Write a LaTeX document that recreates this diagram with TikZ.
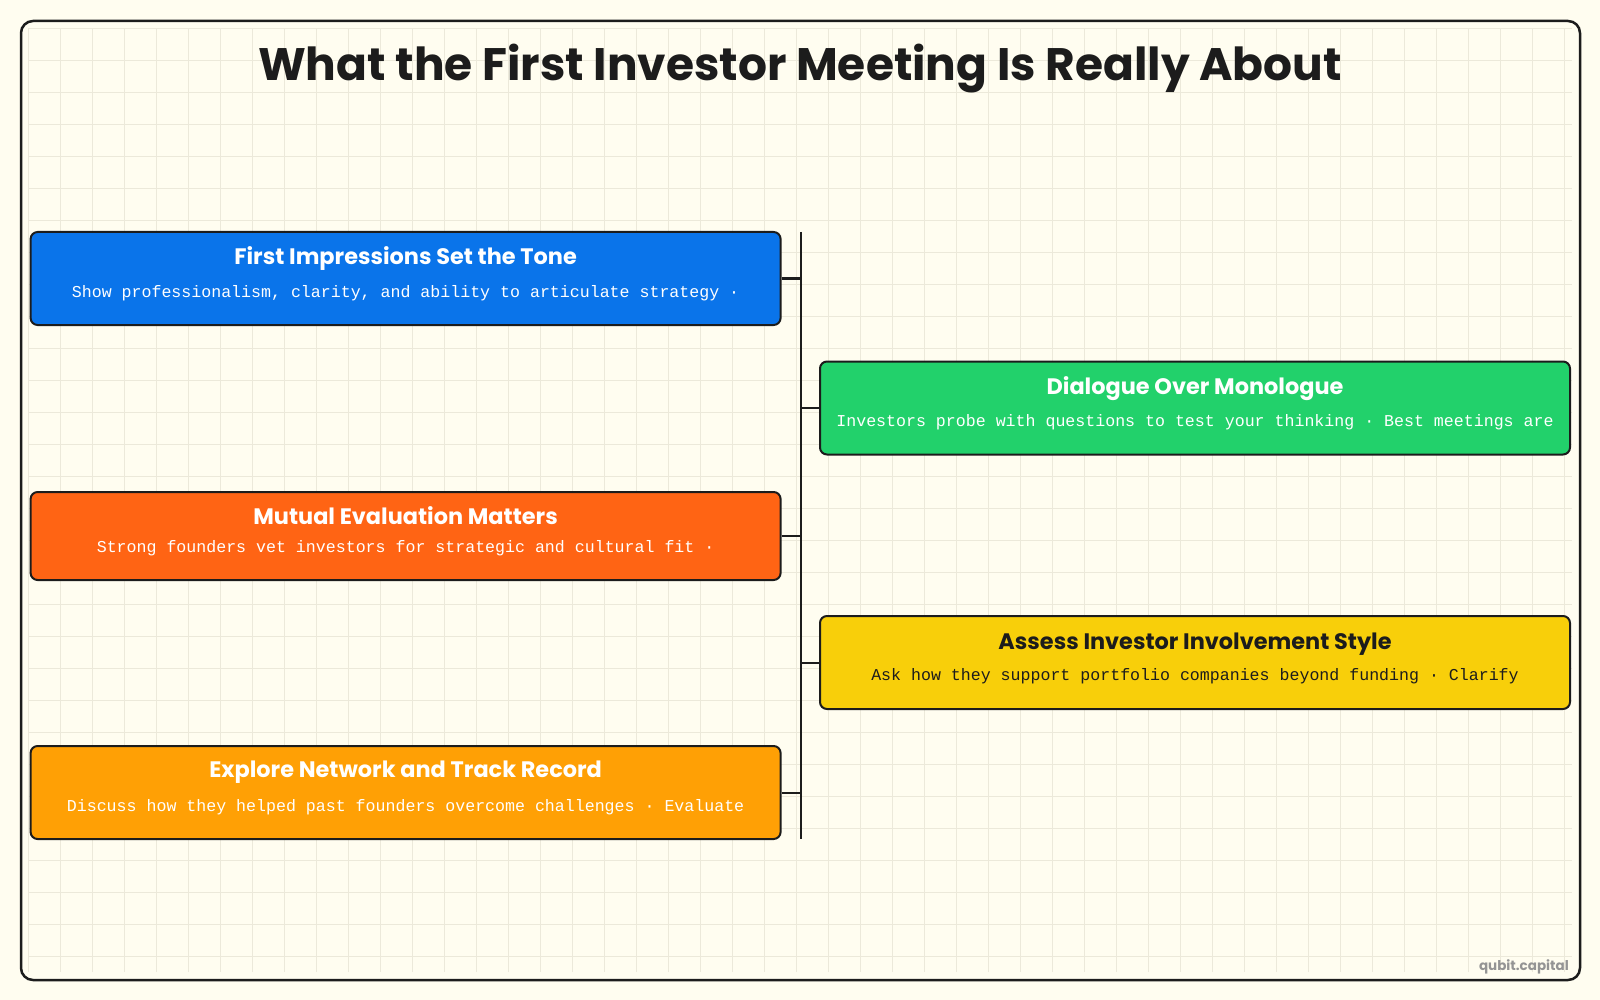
\documentclass[tikz,border=0pt]{standalone}
\usepackage{fontspec}
\setmainfont{Poppins}
\newfontfamily\codefont{Liberation Mono}
\definecolor{paper}{HTML}{FFFDF0}
\definecolor{gridc}{HTML}{ECE9DA}
\definecolor{ink}{HTML}{1C1C1C}
\definecolor{cblue}{HTML}{0A74EA}
\definecolor{cgreen}{HTML}{22D16B}
\definecolor{cred}{HTML}{FF6414}
\definecolor{cyellow}{HTML}{F8CF0A}
\definecolor{corange}{HTML}{FFA005}
\tikzset{
  card/.style={draw=ink, line width=2pt, rounded corners=7pt, minimum width=750pt, minimum height=93pt},
  head/.style={font=\bfseries\fontsize{22.4}{26}\selectfont, text=white},
  sub/.style={font=\codefont\fontsize{16.6}{20}\selectfont, text=white},
  spine/.style={draw=ink, line width=2pt}
}
\begin{document}
\begin{tikzpicture}[x=1pt,y=-1pt]
\useasboundingbox[fill=paper] (0,0) rectangle (1600,1000);
\begin{scope}[shift={(28,28)}]
  \draw[gridc, line width=0.7pt, step=32pt] (0,0) grid (1544,944);
\end{scope}
\draw[ink, line width=2.5pt, rounded corners=12pt] (21,21) rectangle (1580,980);

\node[font=\bfseries\fontsize{45.5}{52}\selectfont, text=ink] (title) at (800,69) {What the First Investor Meeting Is Really About};

\node[card, fill=cblue] (b1) at (405.6,278.5) {};
\node[head] (h1) at (405.6,259) {First Impressions Set the Tone};
\node[sub] (s1) at (405.6,293) {Show professionalism, clarity, and ability to articulate strategy ·};

\node[card, fill=cgreen] (b2) at (1195,408) {};
\node[head] (h2) at (1195,389) {Dialogue Over Monologue};
\node[sub] (s2) at (1195,422.5) {Investors probe with questions to test your thinking · Best meetings are};

\node[card, fill=cred, minimum height=88pt] (b3) at (405.6,536) {};
\node[head] (h3) at (405.6,515.5) {Mutual Evaluation Matters};
\node[sub] (s3) at (405.6,548) {Strong founders vet investors for strategic and cultural fit ·};

\node[card, fill=cyellow] (b4) at (1195,662.5) {};
\node[head, text=ink] (h4) at (1195,644) {Assess Investor Involvement Style};
\node[sub, text=ink] (s4) at (1195,676.5) {Ask how they support portfolio companies beyond funding · Clarify};

\node[card, fill=corange] (b5) at (405.6,792.5) {};
\node[head] (h5) at (405.6,772.5) {Explore Network and Track Record};
\node[sub] (s5) at (405.6,807) {Discuss how they helped past founders overcome challenges · Evaluate};

\coordinate (top) at (801,232);
\coordinate (bot) at (801,839);
\draw[spine] (top) -- (bot);
\draw[spine] (b1.east) -- (b1.east -| top);
\draw[spine] (b2.west) -- (b2.west -| top);
\draw[spine] (b3.east) -- (b3.east -| top);
\draw[spine] (b4.west) -- (b4.west -| top);
\draw[spine] (b5.east) -- (b5.east -| top);

\node[font=\bfseries\fontsize{13.5}{16}\selectfont, text=black!42, anchor=south east, inner sep=0pt] (mark) at (1569,974) {qubit.capital};
\end{tikzpicture}
\end{document}
